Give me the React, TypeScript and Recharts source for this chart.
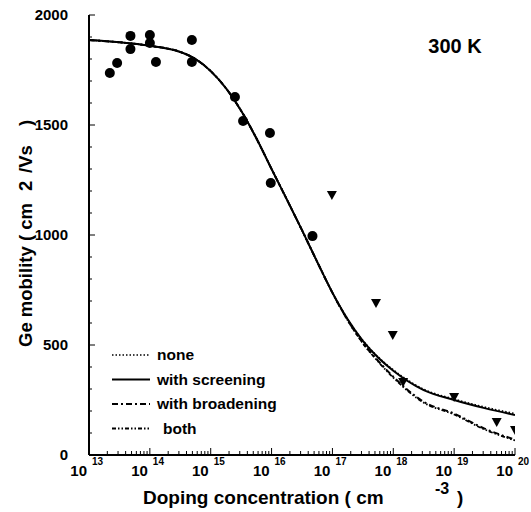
import { ComposedChart, Line, Scatter, XAxis, YAxis } from 'recharts';

// measured mobility points (circles and triangles)
const circleX = [2.2e13, 2.9e13, 4.8e13, 4.8e13, 1e14, 1e14, 1.26e14, 4.9e14, 4.9e14, 2.5e15, 3.4e15, 9.4e15, 9.7e15, 4.7e16];
const circleY = [1736, 1782, 1905, 1845, 1909, 1873, 1786, 1886, 1786, 1627, 1518, 1464, 1236, 995];
const triX = [9.8e16, 5.2e17, 9.8e17, 1.45e18, 1e19, 5e19, 1e20];
const triY = [1182, 691, 545, 332, 264, 150, 114];

// model curves
const curveX = [1e13, 3.16e13, 1e14, 3.16e14, 5.62e14, 1e15, 1.78e15, 3.16e15, 5.62e15, 1e16, 1.78e16, 3.16e16, 5.62e16, 1e17, 1.78e17, 3.16e17, 5.62e17, 1e18, 3.16e18, 1e19, 3.16e19, 1e20];
const noneY = [1886, 1876, 1860, 1832, 1800, 1745, 1667, 1565, 1440, 1300, 1162, 1022, 878, 738, 618, 521, 446, 387, 299, 254, 218, 188];
const screeningY = [1886, 1876, 1860, 1832, 1800, 1745, 1667, 1565, 1440, 1300, 1162, 1022, 878, 738, 617, 519, 443, 383, 295, 250, 213, 182];
const broadeningY = [1886, 1876, 1860, 1832, 1800, 1745, 1667, 1565, 1440, 1300, 1162, 1022, 878, 737, 613, 510, 428, 356, 242, 188, 120, 70];
const bothY = [1886, 1876, 1860, 1832, 1800, 1745, 1667, 1565, 1440, 1300, 1162, 1022, 878, 737, 612, 508, 425, 352, 238, 184, 116, 66];

const majorTicks = [1e13, 1e14, 1e15, 1e16, 1e17, 1e18, 1e19, 1e20];
const minorSteps = [2, 3, 4, 5, 6, 7, 8, 9];
const yTicks = [0, 500, 1000, 1500, 2000];
const yMinor = [100, 200, 300, 400, 600, 700, 800, 900, 1100, 1200, 1300, 1400, 1600, 1700, 1800, 1900];

const FONT = 'Liberation Sans, Arial, sans-serif';

const toPts = (xs: number[], ys: number[]) => xs.map((x, i) => ({ x, y: ys[i] }));

const circles = toPts(circleX, circleY);
const triangles = toPts(triX, triY);
const curves = [
  { name: 'none', data: toPts(curveX, noneY), dash: '1.5 2', width: 1.6 },
  { name: 'with screening', data: toPts(curveX, screeningY), dash: undefined, width: 2 },
  { name: 'with broadening', data: toPts(curveX, broadeningY), dash: '6 3 2 3', width: 2 },
  { name: 'both', data: toPts(curveX, bothY), dash: '4 2 1.5 2 1.5 2', width: 1.8 },
];

const allXTicks = [
  ...majorTicks,
  ...majorTicks.slice(0, -1).flatMap((m) => minorSteps.map((s) => m * s)),
];

const XTick = (props: any) => {
  const { x, y, payload } = props;
  const v = payload.value;
  const exp = Math.round(Math.log10(v));
  const major = Math.abs(v - Math.pow(10, exp)) < v * 1e-6;
  return (
    <g>
      <line x1={x} x2={x} y1={y} y2={y - (major ? 7 : 4)} stroke="#000" strokeWidth={1} />
      {major && (
        <text fontFamily={FONT} fontWeight="bold" fill="#000">
          <tspan x={x - 2} y={y + 21} fontSize={15} textAnchor="end">10</tspan>
          <tspan x={x + 3} y={y + 10} fontSize={10} textAnchor="start">{exp}</tspan>
        </text>
      )}
    </g>
  );
};

const YTick = (props: any) => {
  const { x, y, payload } = props;
  const major = payload.value % 500 === 0;
  return (
    <g>
      <line x1={x} x2={x + (major ? 6 : 3)} y1={y} y2={y} stroke="#000" strokeWidth={1} />
      {major && (
        <text x={x - 21} y={y} dy={5} textAnchor="end" fontFamily={FONT} fontWeight="bold" fontSize={15} fill="#000">
          {payload.value}
        </text>
      )}
    </g>
  );
};

const Dot = (props: any) => <circle cx={props.cx} cy={props.cy} r={5} fill="#000" />;
const Tri = (props: any) => {
  const { cx, cy } = props;
  return <polygon points={`${cx - 5},${cy - 4} ${cx + 5},${cy - 4} ${cx},${cy + 5}`} fill="#000" />;
};

const App = () => {
  return (
    <div style={{ position: 'absolute', left: 0, top: 0, width: 531, height: 512, background: '#fff' }}>
      <ComposedChart width={531} height={512} margin={{ top: 15, right: 16, bottom: 0, left: 0 }}>
        <XAxis
          dataKey="x"
          type="number"
          scale="log"
          domain={[1e13, 1e20]}
          ticks={allXTicks}
          interval={0}
          tick={<XTick />}
          tickLine={false}
          tickSize={0}
          tickMargin={0}
          height={57}
          stroke="#000"
          strokeWidth={2}
          allowDataOverflow
        />
        <XAxis xAxisId="top" orientation="top" type="number" scale="log" domain={[1e13, 1e20]} height={0} tick={false} tickLine={false} stroke="#000" />
        <YAxis
          dataKey="y"
          type="number"
          domain={[0, 2000]}
          ticks={[...yTicks, ...yMinor]}
          interval={0}
          tick={<YTick />}
          tickLine={false}
          tickSize={0}
          tickMargin={0}
          width={89}
          stroke="#000"
          strokeWidth={2}
          allowDataOverflow
        />
        <YAxis yAxisId="right" orientation="right" type="number" domain={[0, 2000]} width={0} tick={false} tickLine={false} stroke="#000" />
        {curves.map((c) => (
          <Line
            key={c.name}
            data={c.data}
            dataKey="y"
            type="monotone"
            stroke="#000"
            strokeWidth={c.width}
            strokeDasharray={c.dash}
            dot={false}
            isAnimationActive={false}
          />
        ))}
        <Scatter data={circles} shape={<Dot />} isAnimationActive={false} />
        <Scatter data={triangles} shape={<Tri />} isAnimationActive={false} />
      </ComposedChart>
      <svg width={531} height={512} style={{ position: 'absolute', left: 0, top: 0, pointerEvents: 'none' }}>
        <g fontFamily={FONT} fontWeight="bold" fill="#000">
          <text x={455} y={53} fontSize={20} textAnchor="middle">300 K</text>
          <text x={143} y={504} fontSize={19}>Doping concentration ( cm</text>
          <text x={435} y={494} fontSize={16}>-3</text>
          <text x={457} y={504} fontSize={19}>)</text>
          <g fontSize={18.5}>
            <text transform="translate(32 347) rotate(-90)">Ge mobility ( cm</text>
            <text transform="translate(32 191) rotate(-90)">2</text>
            <text transform="translate(32 173) rotate(-90)">/Vs</text>
            <text transform="translate(32 126) rotate(-90)">)</text>
          </g>
          {curves.map((c, i) => (
            <g key={c.name} transform={`translate(0 ${355 + i * 24.5})`}>
              <line x1={112} x2={150} y1={0} y2={0} stroke="#000" strokeWidth={c.width} strokeDasharray={c.dash} />
              <text x={c.name === 'both' ? 163 : 157} y={5} fontSize={15.5}>{c.name}</text>
            </g>
          ))}
        </g>
      </svg>
    </div>
  );
};

export default App;
